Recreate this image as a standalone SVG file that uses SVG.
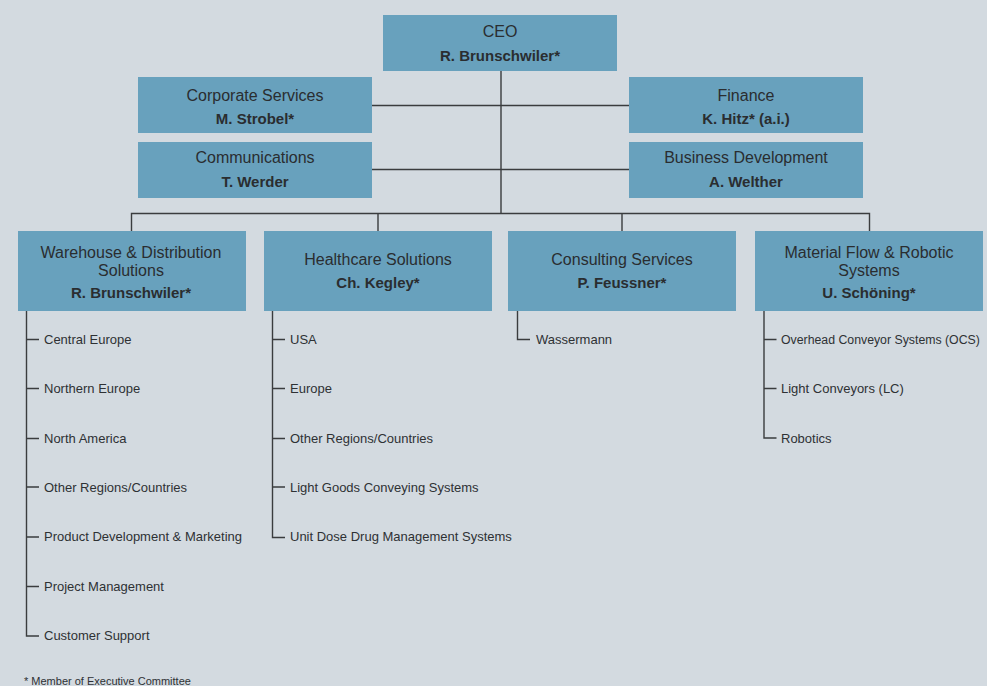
<svg xmlns="http://www.w3.org/2000/svg" width="987" height="686" viewBox="0 0 987 686">
<style>
.box{fill:#68a1bd}
.t{font-family:"Liberation Sans",Arial,sans-serif;font-size:16px;fill:#2a2d30;text-anchor:middle}
.b{font-family:"Liberation Sans",Arial,sans-serif;font-size:15px;font-weight:bold;fill:#2a2d30;text-anchor:middle}
.li{font-family:"Liberation Sans",Arial,sans-serif;font-size:13px;fill:#2e3134}
.fn{font-family:"Liberation Sans",Arial,sans-serif;font-size:11px;fill:#2e3134}
.c{fill:none;stroke:#3a3c3e;stroke-width:1.4}
</style>
<rect x="0" y="0" width="987" height="686" fill="#d3dae0"/>
<g id="connectors">
<path class="c" d="M501 71V213M372 105.5H629M372 169.5H629M131.5 231V213.5H869.5V231M378 213.5V231M622 213.5V231"/>
<path class="c" d="M26.5 311V636H39M26.5 339.5H39M26.5 388.5H39M26.5 438.5H39M26.5 487H39M26.5 537H39M26.5 586.5H39"/>
<path class="c" d="M272.5 311V537.5H285M272.5 339.5H285M272.5 388.5H285M272.5 438.5H285M272.5 487H285"/>
<path class="c" d="M517.5 311V339.5H530"/>
<path class="c" d="M764 311V438H776.5M764 339.5H776.5M764 388.5H776.5"/>
</g>
<g id="ceo"><rect class="box" x="383" y="15" width="234" height="56"/><text class="t" x="500" y="37">CEO</text><text class="b" x="500" y="61">R. Brunschwiler*</text></g>
<g id="corporate-services"><rect class="box" x="138" y="77" width="234" height="56"/><text class="t" x="255" y="101">Corporate Services</text><text class="b" x="255" y="124">M. Strobel*</text></g>
<g id="finance"><rect class="box" x="629" y="77" width="234" height="56"/><text class="t" x="746" y="101">Finance</text><text class="b" x="746" y="124">K. Hitz* (a.i.)</text></g>
<g id="communications"><rect class="box" x="138" y="142" width="234" height="56"/><text class="t" x="255" y="163">Communications</text><text class="b" x="255" y="187">T. Werder</text></g>
<g id="business-development"><rect class="box" x="629" y="142" width="234" height="56"/><text class="t" x="746" y="163">Business Development</text><text class="b" x="746" y="187">A. Welther</text></g>
<g id="warehouse"><rect class="box" x="18" y="231" width="228" height="80"/><text class="t" x="131" y="258">Warehouse &amp; Distribution</text><text class="t" x="131" y="276">Solutions</text><text class="b" x="131" y="298">R. Brunschwiler*</text></g>
<g id="healthcare"><rect class="box" x="264" y="231" width="228" height="80"/><text class="t" x="378" y="265">Healthcare Solutions</text><text class="b" x="378" y="288">Ch. Kegley*</text></g>
<g id="consulting"><rect class="box" x="508" y="231" width="228" height="80"/><text class="t" x="622" y="265">Consulting Services</text><text class="b" x="622" y="288">P. Feussner*</text></g>
<g id="material-flow"><rect class="box" x="755" y="231" width="228" height="80"/><text class="t" x="869" y="258">Material Flow &amp; Robotic</text><text class="t" x="869" y="276">Systems</text><text class="b" x="869" y="298">U. Schöning*</text></g>
<g id="warehouse-list">
<text class="li" x="44" y="344">Central Europe</text>
<text class="li" x="44" y="393">Northern Europe</text>
<text class="li" x="44" y="443">North America</text>
<text class="li" x="44" y="492">Other Regions/Countries</text>
<text class="li" x="44" y="541">Product Development &amp; Marketing</text>
<text class="li" x="44" y="591">Project Management</text>
<text class="li" x="44" y="640">Customer Support</text>
</g>
<g id="healthcare-list">
<text class="li" x="290" y="344">USA</text>
<text class="li" x="290" y="393">Europe</text>
<text class="li" x="290" y="443">Other Regions/Countries</text>
<text class="li" x="290" y="492">Light Goods Conveying Systems</text>
<text class="li" x="290" y="541">Unit Dose Drug Management Systems</text>
</g>
<g id="consulting-list"><text class="li" x="536" y="344">Wassermann</text></g>
<g id="material-list">
<text class="li" x="781" y="344" style="font-size:12.3px">Overhead Conveyor Systems (OCS)</text>
<text class="li" x="781" y="393">Light Conveyors (LC)</text>
<text class="li" x="781" y="443">Robotics</text>
</g>
<text class="fn" x="24" y="685">* Member of Executive Committee</text>
</svg>
